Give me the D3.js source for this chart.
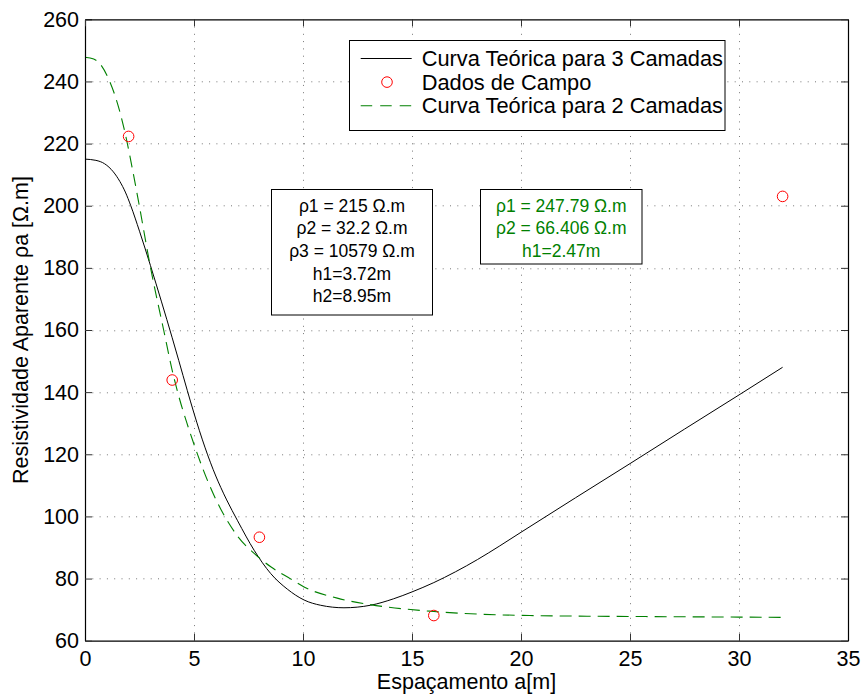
<!DOCTYPE html>
<html>
<head>
<meta charset="utf-8">
<script src="https://cdn.jsdelivr.net/npm/d3@7"></script>
<style>
  body { margin: 0; background: #fff; }
  text { font-family: "Liberation Sans", Arial, Helvetica, sans-serif; }
</style>
</head>
<body>
<div id="chart"></div>
<script>
// field data (Dados de Campo)
var fieldX = [2, 4, 8, 16, 32];
var fieldRho = [222.3, 143.9, 93.3, 68.1, 203.0];

// 3-layer theoretical curve
var curve3X = [0, 0.5, 0.9, 1.3, 1.6, 1.85, 2.1, 2.5, 3.0, 3.5, 4.0, 4.3, 4.69, 5.0, 5.5, 6.0, 6.23, 6.5, 7.0, 7.76, 8.52, 9.28, 10.05, 10.81, 11.88, 13.09, 14.16, 15, 16, 17, 18, 19, 20, 22.5, 25, 27.5, 30, 32];
var curve3Rho = [215, 214.6, 213.5, 210.9, 207.8, 204.4, 200.0, 191.8, 180.8, 169.3, 157.5, 150.2, 140.6, 133.2, 122.3, 113.0, 109.3, 105.3, 98.6, 89.1, 81.6, 76.6, 73.1, 71.4, 70.6, 71.4, 73.5, 75.7, 78.7, 82.2, 86.1, 90.4, 94.9, 106.0, 117.0, 128.1, 139.1, 148];

// 2-layer theoretical curve
var curve2X = [0, 0.4, 0.7, 1.07, 1.35, 1.6, 1.92, 2.2, 2.46, 3.0, 3.62, 4.0, 4.27, 4.7, 5.15, 5.7, 6.23, 6.6, 7.0, 7.76, 8.52, 9.43, 10.05, 11.57, 13.09, 16, 20.4, 25, 30, 32];
var curve2Rho = [247.8, 247.2, 245.6, 241.0, 236.0, 230.2, 220.8, 210.9, 201.2, 180.3, 159.6, 147.0, 139.5, 129.5, 120.2, 110.2, 102.3, 97.8, 93.6, 88.1, 83.8, 79.9, 77.3, 73.7, 71.6, 69.4, 68.1, 67.8, 67.6, 67.5];

var xTicks = [0, 5, 10, 15, 20, 25, 30, 35];
var yTicks = [60, 80, 100, 120, 140, 160, 180, 200, 220, 240, 260];

var legendLabels = ["Curva Teórica para 3 Camadas", "Dados de Campo", "Curva Teórica para 2 Camadas"];
var box3Lines = ["ρ1 = 215 Ω.m", "ρ2 = 32.2 Ω.m", "ρ3 = 10579 Ω.m", "h1=3.72m", "h2=8.95m"];
var box2Lines = ["ρ1 = 247.79 Ω.m", "ρ2 = 66.406 Ω.m", "h1=2.47m"];

var svgWidth = 861;
var svgHeight = 695;
var margin = { top: 19.3, right: 13, bottom: 54.3, left: 85 };
var width = svgWidth - margin.left - margin.right;
var height = svgHeight - margin.top - margin.bottom;

var green = "#008000";
var fontFam = "Liberation Sans, Arial, Helvetica, sans-serif";

var svg = d3.select("#chart").append("svg")
  .attr("width", svgWidth)
  .attr("height", svgHeight);

svg.append("rect").attr("width", svgWidth).attr("height", svgHeight).attr("fill", "#fff");

var chartGroup = svg.append("g")
  .attr("transform", `translate(${margin.left}, ${margin.top})`);

var xScale = d3.scaleLinear().domain([0, 35]).range([0, width]);
var yScale = d3.scaleLinear().domain([60, 260]).range([height, 0]);

// dotted grid
var grid = chartGroup.append("g")
  .attr("stroke", "#777")
  .attr("stroke-width", 1)
  .attr("stroke-dasharray", "1,6.3");

grid.selectAll(".gx")
  .data(xTicks.slice(1, -1))
  .enter().append("line")
  .attr("x1", d => Math.round(xScale(d)) + 0.5)
  .attr("x2", d => Math.round(xScale(d)) + 0.5)
  .attr("y1", height)
  .attr("y2", 0);

grid.selectAll(".gy")
  .data(yTicks.slice(1, -1))
  .enter().append("line")
  .attr("y1", d => Math.round(yScale(d)) + 0.5)
  .attr("y2", d => Math.round(yScale(d)) + 0.5)
  .attr("x1", 0)
  .attr("x2", width);

// curves
var line = d3.line()
  .x(d => xScale(d[0]))
  .y(d => yScale(d[1]))
  .curve(d3.curveMonotoneX);

var curve3 = curve3X.map((v, i) => [v, curve3Rho[i]]);
var curve2 = curve2X.map((v, i) => [v, curve2Rho[i]]);

chartGroup.append("path")
  .datum(curve3)
  .attr("d", line)
  .attr("fill", "none")
  .attr("stroke", "#000")
  .attr("stroke-width", 1);

chartGroup.append("path")
  .datum(curve2)
  .attr("d", line)
  .attr("fill", "none")
  .attr("stroke", green)
  .attr("stroke-width", 1.1)
  .attr("stroke-dasharray", "12,7");

// field data markers
chartGroup.selectAll(".pt")
  .data(fieldX)
  .enter().append("circle")
  .attr("cx", (d, i) => xScale(d))
  .attr("cy", (d, i) => yScale(fieldRho[i]))
  .attr("r", 5.3)
  .attr("fill", "none")
  .attr("stroke", "#f00")
  .attr("stroke-width", 1);

// axes (ticks pointing inward on all four sides)
function styleAxis(g) {
  g.attr("font-family", fontFam).attr("font-size", 21.5);
  g.select(".domain").attr("stroke", "#000").attr("stroke-width", 1.2);
  g.selectAll(".tick line").attr("stroke", "#333");
  g.selectAll(".tick text").attr("fill", "#000");
}

chartGroup.append("g")
  .attr("transform", `translate(0, ${height})`)
  .call(d3.axisBottom(xScale).tickValues(xTicks).tickSizeInner(-7).tickSizeOuter(0).tickPadding(10.2))
  .call(styleAxis);

chartGroup.append("g")
  .call(d3.axisLeft(yScale).tickValues(yTicks).tickSizeInner(-7).tickSizeOuter(0).tickPadding(6))
  .call(styleAxis);

chartGroup.append("g")
  .call(d3.axisTop(xScale).tickValues(xTicks).tickSizeInner(-7).tickSizeOuter(0).tickFormat(""))
  .call(styleAxis);

chartGroup.append("g")
  .attr("transform", `translate(${width}, 0)`)
  .call(d3.axisRight(yScale).tickValues(yTicks).tickSizeInner(-7).tickSizeOuter(0).tickFormat(""))
  .call(styleAxis);

// axis labels
svg.append("text")
  .attr("x", margin.left + width / 2)
  .attr("y", 689)
  .attr("text-anchor", "middle")
  .attr("font-size", 21.5)
  .text("Espaçamento a[m]");

svg.append("text")
  .attr("transform", `translate(28, ${margin.top + height / 2}) rotate(-90)`)
  .attr("text-anchor", "middle")
  .attr("font-size", 21.5)
  .text("Resistividade Aparente ρa [Ω.m]");

// legend
var legend = svg.append("g");
legend.append("rect")
  .attr("x", 349.5).attr("y", 40.5)
  .attr("width", 375.5).attr("height", 90)
  .attr("fill", "#fff")
  .attr("stroke", "#000")
  .attr("stroke-width", 1);

var legendBase = [66, 89.6, 113.3];
legend.append("line")
  .attr("x1", 360.7).attr("x2", 411.7)
  .attr("y1", legendBase[0] - 7.5).attr("y2", legendBase[0] - 7.5)
  .attr("stroke", "#000");
legend.append("circle")
  .attr("cx", 387).attr("cy", legendBase[1] - 7.5).attr("r", 5.3)
  .attr("fill", "none").attr("stroke", "#f00");
legend.append("line")
  .attr("x1", 360.7).attr("x2", 411.7)
  .attr("y1", legendBase[2] - 7.5).attr("y2", legendBase[2] - 7.5)
  .attr("stroke", green)
  .attr("stroke-width", 1.1)
  .attr("stroke-dasharray", "11.5,8");

legend.selectAll(".lt")
  .data(legendLabels)
  .enter().append("text")
  .attr("x", 421.7)
  .attr("y", (d, i) => legendBase[i])
  .attr("font-size", 21.8)
  .text(d => d);

// parameter boxes
function paramBox(x0, y0, w, h, lines, color) {
  var g = svg.append("g");
  g.append("rect")
    .attr("x", x0).attr("y", y0)
    .attr("width", w).attr("height", h)
    .attr("fill", "#fff")
    .attr("stroke", "#000")
    .attr("stroke-width", 1);
  g.selectAll("text")
    .data(lines)
    .enter().append("text")
    .attr("x", x0 + w / 2)
    .attr("y", (d, i) => 211.7 + i * 22.6)
    .attr("text-anchor", "middle")
    .attr("font-size", 17.5)
    .attr("fill", color)
    .text(d => d);
}

paramBox(271.5, 189.5, 161, 125.5, box3Lines, "#000");
paramBox(480.5, 189.5, 161.5, 74.5, box2Lines, green);
</script>
</body>
</html>
